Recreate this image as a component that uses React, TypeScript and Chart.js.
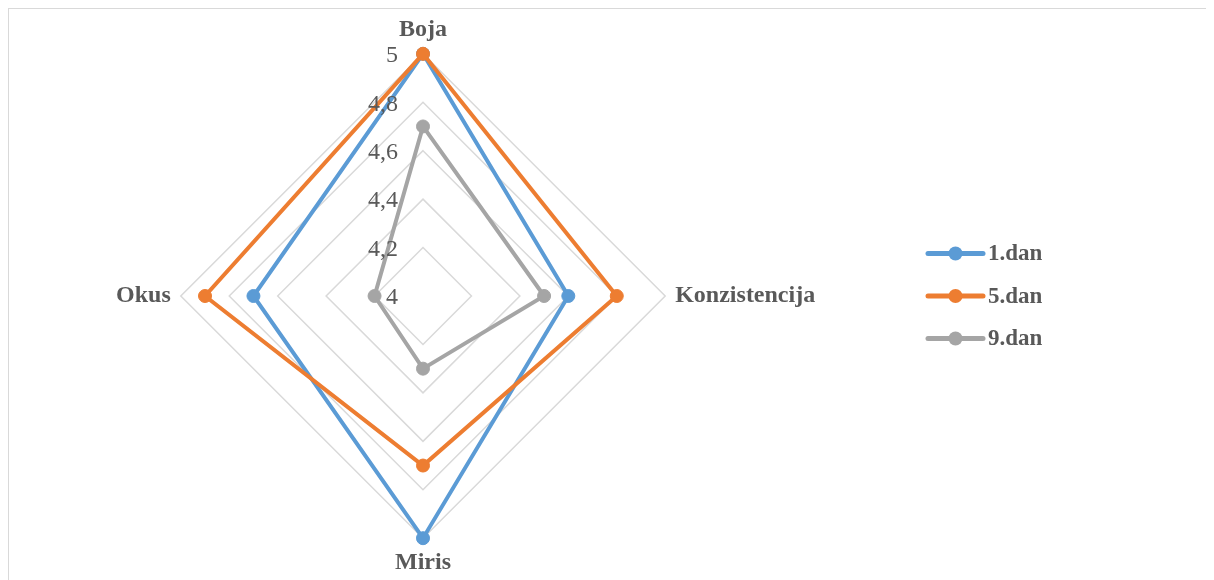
import React, { useEffect, useRef } from "react";
import { Chart, registerables } from "chart.js";

Chart.register(...registerables);

const CATEGORIES = ["Boja", "Konzistencija", "Miris", "Okus"];
const SERIES_NAMES = ["1.dan", "5.dan", "9.dan"];
const DAN1 = [5, 4.6, 5, 4.7];
const DAN5 = [5, 4.8, 4.7, 4.9];
const DAN9 = [4.7, 4.5, 4.3, 4.2];
const SERIES_COLORS = ["#5B9BD5", "#ED7D31", "#A5A5A5"];
const TICK_VALUES = [4, 4.2, 4.4, 4.6, 4.8, 5];
const TICK_LABELS = ["4", "4,2", "4,4", "4,6", "4,8", "5"];

const FONT_FAMILY = "'Liberation Serif', 'Times New Roman', serif";
const TEXT_COLOR = "#595959";

const tickLabelPlugin = {
  id: "tickLabelPlugin",
  afterDatasetsDraw(chart: any) {
    const s = chart.scales.r;
    const ctx = chart.ctx;
    ctx.save();
    ctx.font = `24px ${FONT_FAMILY}`;
    ctx.fillStyle = TEXT_COLOR;
    ctx.textAlign = "right";
    ctx.textBaseline = "middle";
    s.ticks.forEach((t: any) => {
      const idx = TICK_VALUES.findIndex((v) => Math.abs(v - t.value) < 1e-6);
      if (idx < 0) return;
      const d = s.getDistanceFromCenterForValue(t.value);
      ctx.fillText(TICK_LABELS[idx], s.xCenter - 25, s.yCenter - d + 2);
    });
    ctx.restore();
  },
};

const legendPlugin = {
  id: "customLegend",
  afterDraw(chart: any) {
    const s = chart.scales.r;
    const ctx = chart.ctx;
    const ds = chart.data.datasets;
    const lineStart = 919;
    const lineEnd = 974;
    const spacing = 42.5;
    ctx.save();
    ctx.font = `bold 23px ${FONT_FAMILY}`;
    ctx.textAlign = "left";
    ctx.textBaseline = "middle";
    ds.forEach((d: any, i: number) => {
      const y = s.yCenter + (i - (ds.length - 1) / 2) * spacing;
      ctx.strokeStyle = d.borderColor;
      ctx.lineWidth = 5;
      ctx.lineCap = "round";
      ctx.beginPath();
      ctx.moveTo(lineStart, y);
      ctx.lineTo(lineEnd, y);
      ctx.stroke();
      ctx.fillStyle = d.borderColor;
      ctx.beginPath();
      ctx.arc((lineStart + lineEnd) / 2, y, 7, 0, Math.PI * 2);
      ctx.fill();
      ctx.fillStyle = TEXT_COLOR;
      ctx.fillText(d.label, lineEnd + 5, y + 1);
    });
    ctx.restore();
  },
};

export default function App() {
  const canvasRef = useRef<HTMLCanvasElement | null>(null);

  useEffect(() => {
    if (!canvasRef.current) return;
    const seriesData = [DAN1, DAN5, DAN9];
    const chart = new Chart(canvasRef.current, {
      type: "radar",
      data: {
        labels: CATEGORIES,
        datasets: SERIES_NAMES.map((name, i) => ({
          label: name,
          data: seriesData[i],
          borderColor: SERIES_COLORS[i],
          backgroundColor: "rgba(0,0,0,0)",
          pointBackgroundColor: SERIES_COLORS[i],
          pointBorderColor: SERIES_COLORS[i],
          pointBorderWidth: 1,
          pointRadius: 6.5,
          borderWidth: 4,
          fill: false,
          tension: 0,
          order: SERIES_NAMES.length - 1 - i,
        })),
      },
      options: {
        animation: false,
        responsive: false,
        maintainAspectRatio: false,
        layout: { padding: { left: 30, right: 375, top: 6, bottom: 3 } },
        plugins: {
          legend: { display: false },
          tooltip: { enabled: false },
        },
        scales: {
          r: {
            min: 4,
            max: 5,
            beginAtZero: false,
            ticks: { display: false, stepSize: 0.2 },
            grid: { circular: false, color: "#D9D9D9", lineWidth: 1.5 },
            angleLines: { display: false },
            pointLabels: {
              display: true,
              padding: 10,
              color: TEXT_COLOR,
              font: { family: FONT_FAMILY, size: 24, weight: "bold" },
            },
          },
        },
      },
      plugins: [tickLabelPlugin, legendPlugin],
    });
    return () => chart.destroy();
  }, []);

  return (
    <div
      style={{
        width: 1206,
        height: 572,
        boxSizing: "border-box",
        borderTop: "1px solid #D9D9D9",
        borderLeft: "1px solid #D9D9D9",
        position: "relative",
        overflow: "hidden",
      }}
    >
      <canvas
        ref={canvasRef}
        width={1205}
        height={571}
        style={{ display: "block", width: 1205, height: 571 }}
      />
    </div>
  );
}
